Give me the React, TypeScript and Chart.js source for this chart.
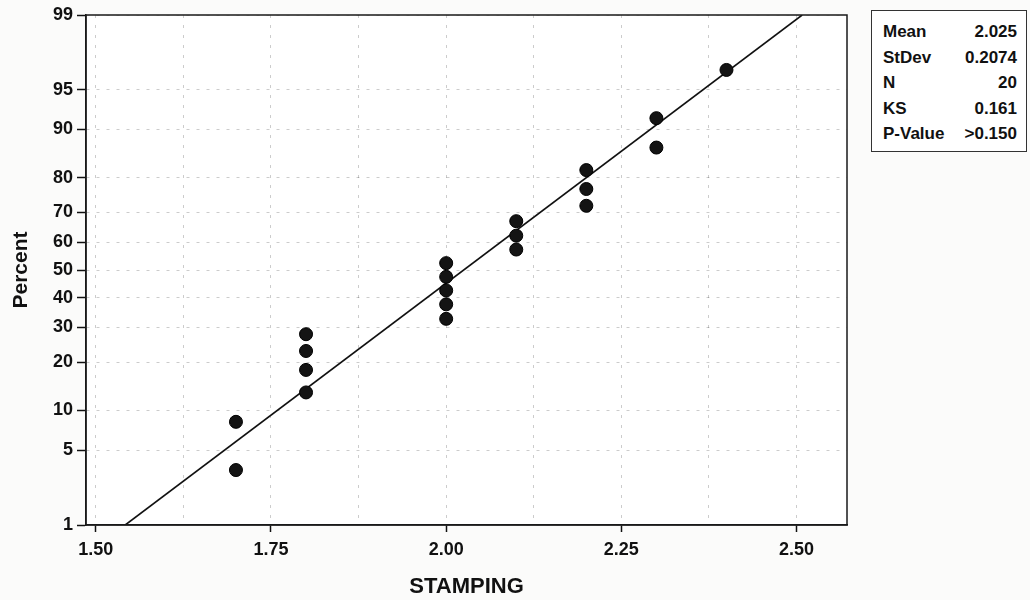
import React, { useEffect, useRef } from "react";
import { Chart, registerables } from "chart.js";

Chart.register(...registerables);

// ---- data ----
const stampingValues = [1.7, 1.7, 1.8, 1.8, 1.8, 1.8, 2.0, 2.0, 2.0, 2.0, 2.0, 2.1, 2.1, 2.1, 2.2, 2.2, 2.2, 2.3, 2.3, 2.4];
const percentValues = [3.4, 8.3, 13.2, 18.1, 23.0, 27.9, 32.8, 37.7, 42.6, 47.5, 52.5, 57.4, 62.3, 67.2, 72.1, 77.0, 81.9, 86.8, 91.7, 96.6];
const fitLineX = [1.542, 2.508];
const fitLinePercent = [1, 99];
const yTickPercents = [1, 5, 10, 20, 30, 40, 50, 60, 70, 80, 90, 95, 99];
const xTickValues = [1.5, 1.625, 1.75, 1.875, 2.0, 2.125, 2.25, 2.375, 2.5];
const xLabelledTicks = [1.5, 1.75, 2.0, 2.25, 2.5];
const statLabels = ["Mean", "StDev", "N", "KS", "P-Value"];
const statValues = ["2.025", "0.2074", "20", "0.161", ">0.150"];

const FONT = "'Liberation Sans', Arial, Helvetica, sans-serif";

// inverse normal CDF (Acklam) — maps percent onto the normal-probability axis
function probit(pct: number): number {
  const p = pct / 100;
  const a = [-3.969683028665376e1, 2.209460984245205e2, -2.759285104469687e2, 1.38357751867269e2, -3.066479806614716e1, 2.506628277459239];
  const b = [-5.447609879822406e1, 1.615858368580409e2, -1.556989798598866e2, 6.680131188771972e1, -1.328068155288572e1];
  const c = [-7.784894002430293e-3, -3.223964580411365e-1, -2.400758277161838, -2.549732539343734, 4.374664141464968, 2.938163982698783];
  const d = [7.784695709041462e-3, 3.224671290700398e-1, 2.445134137142996, 3.754408661907416];
  const pl = 0.02425;
  let q: number, r: number;
  if (p < pl) {
    q = Math.sqrt(-2 * Math.log(p));
    return (((((c[0] * q + c[1]) * q + c[2]) * q + c[3]) * q + c[4]) * q + c[5]) / ((((d[0] * q + d[1]) * q + d[2]) * q + d[3]) * q + 1);
  }
  if (p > 1 - pl) {
    q = Math.sqrt(-2 * Math.log(1 - p));
    return -(((((c[0] * q + c[1]) * q + c[2]) * q + c[3]) * q + c[4]) * q + c[5]) / ((((d[0] * q + d[1]) * q + d[2]) * q + d[3]) * q + 1);
  }
  q = p - 0.5;
  r = q * q;
  return ((((((a[0] * r + a[1]) * r + a[2]) * r + a[3]) * r + a[4]) * r + a[5]) * q) / (((((b[0] * r + b[1]) * r + b[2]) * r + b[3]) * r + b[4]) * r + 1);
}

const isMajorX = (v: number) => xLabelledTicks.some((m) => Math.abs(m - v) < 1e-6);

const frame = {
  id: "frame",
  beforeDraw(chart: any) {
    const { ctx, chartArea: a } = chart;
    ctx.save();
    ctx.fillStyle = "#fbfbfa";
    ctx.fillRect(0, 0, chart.width, chart.height);
    ctx.fillStyle = "#ffffff";
    ctx.fillRect(a.left, a.top, a.right - a.left, a.bottom - a.top);
    ctx.restore();
  },
  afterDraw(chart: any) {
    const { ctx, chartArea: a } = chart;
    ctx.save();
    ctx.setLineDash([]);
    ctx.strokeStyle = "#1a1a1a";
    ctx.lineWidth = 1.5;
    ctx.strokeRect(a.left, a.top, a.right - a.left, a.bottom - a.top);
    ctx.restore();
  },
};

export default function App() {
  const ref = useRef<HTMLCanvasElement | null>(null);

  useEffect(() => {
    if (!ref.current) return;
    const points = stampingValues.map((x, i) => ({ x, y: probit(percentValues[i]) }));
    const fit = fitLineX.map((x, i) => ({ x, y: probit(fitLinePercent[i]) }));
    const chart = new Chart(ref.current, {
      type: "scatter",
      data: {
        datasets: [
          {
            data: points,
            pointRadius: 6.5,
            pointHoverRadius: 6.5,
            backgroundColor: "#141414",
            borderColor: "#000000",
            borderWidth: 1,
            showLine: false,
            order: 0,
          },
          {
            data: fit,
            showLine: true,
            borderColor: "#111111",
            borderWidth: 1.6,
            pointRadius: 0,
            fill: false,
            order: 1,
          },
        ],
      },
      options: {
        animation: false,
        responsive: false,
        devicePixelRatio: 1,
        layout: { padding: { top: 15, right: 183, left: 0, bottom: 0 } },
        plugins: { legend: { display: false }, tooltip: { enabled: false } },
        scales: {
          x: {
            type: "linear",
            min: 1.486,
            max: 2.572,
            afterBuildTicks: (s: any) => {
              s.ticks = xTickValues.map((v) => ({ value: v }));
            },
            afterFit: (s: any) => {
              s.height = 75;
            },
            ticks: {
              autoSkip: false,
              maxRotation: 0,
              padding: 7,
              color: "#111",
              font: { family: FONT, size: 18, weight: "bold" },
              callback: (v: any) => (isMajorX(Number(v)) ? Number(v).toFixed(2) : ""),
            },
            grid: {
              color: "rgba(0,0,0,0.2)",
              tickLength: 7,
              tickColor: (ctx: any) => (ctx.tick && isMajorX(ctx.tick.value) ? "#111" : "rgba(0,0,0,0)"),
              tickWidth: 1.5,
              tickBorderDash: [],
            },
            border: { display: true, color: "#1a1a1a", width: 1.5, dash: [3, 7] },
            title: {
              display: true,
              text: "STAMPING",
              color: "#111",
              font: { family: FONT, size: 22, weight: "bold" },
              padding: { top: 0, bottom: 0 },
            },
          },
          y: {
            type: "linear",
            min: probit(1),
            max: probit(99),
            afterBuildTicks: (s: any) => {
              s.ticks = yTickPercents.map((p) => ({ value: probit(p) }));
            },
            afterFit: (s: any) => {
              s.width = 86;
            },
            ticks: {
              autoSkip: false,
              padding: 4,
              color: "#111",
              font: { family: FONT, size: 18, weight: "bold" },
              callback: (_v: any, i: number) => String(yTickPercents[i]),
            },
            grid: {
              color: "rgba(0,0,0,0.2)",
              tickLength: 9,
              tickColor: "#111",
              tickWidth: 1.5,
              tickBorderDash: [],
            },
            border: { display: true, color: "#1a1a1a", width: 1.5, dash: [3, 7] },
            title: {
              display: true,
              text: "Percent",
              color: "#111",
              font: { family: FONT, size: 21, weight: "bold" },
              padding: { top: 9, bottom: 0 },
            },
          },
        },
      },
      plugins: [frame],
    } as any);
    return () => chart.destroy();
  }, []);

  return (
    <div style={{ position: "fixed", left: 0, top: 0, width: 1030, height: 600, background: "#fbfbfa" }}>
      <canvas ref={ref} width={1030} height={600} style={{ position: "absolute", left: 0, top: 0 }} />
      <div
        style={{
          position: "absolute",
          left: 871,
          top: 10,
          width: 156,
          height: 142,
          border: "1.5px solid #333",
          background: "#ffffff",
          boxSizing: "border-box",
          fontFamily: FONT,
          fontWeight: "bold",
          fontSize: 17,
          color: "#111",
          padding: "11px 9px 0 11px",
        }}
      >
        {statLabels.map((lab, i) => (
          <div key={lab} style={{ display: "flex", justifyContent: "space-between", height: 25.5, lineHeight: "20px" }}>
            <span>{lab}</span>
            <span>{statValues[i]}</span>
          </div>
        ))}
      </div>
    </div>
  );
}
